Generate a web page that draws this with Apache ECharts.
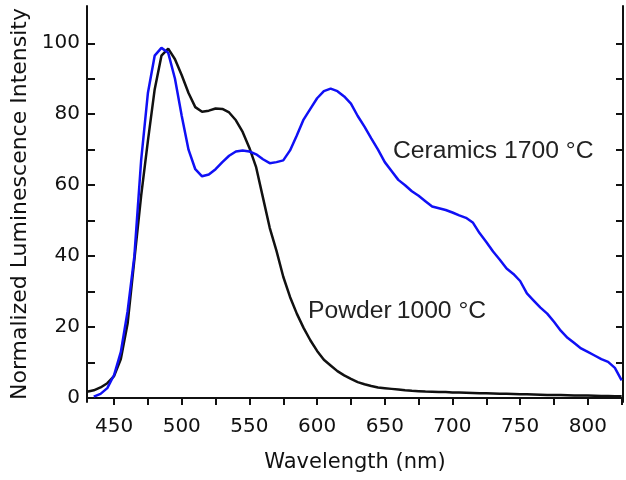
<!DOCTYPE html>
<html><head><meta charset="utf-8">
<script src="https://cdn.jsdelivr.net/npm/echarts@6/dist/echarts.min.js"></script>
<style>html,body{margin:0;padding:0;background:#fff}#c{width:626px;height:480px}</style>
</head><body><div id="c"></div>
<script>
// Wavelength (nm), 5 nm steps
const wavelength = [430,435,440,445,450,455,460,465,470,475,480,485,490,495,500,505,510,515,520,525,530,535,540,545,550,555,560,565,570,575,580,585,590,595,600,605,610,615,620,625,630,635,640,645,650,655,660,665,670,675,680,685,690,695,700,705,710,715,720,725,730,735,740,745,750,755,760,765,770,775,780,785,790,795,800,805,810,815,820,825];
const powder1000 = [1.8,2.2,3.0,4.2,6.2,11,21,39,57,72.5,87,96.5,98.5,95.5,91,86,82,80.7,81,81.6,81.5,80.5,78.3,75,70.5,65,56.5,48,41.5,34.2,28.5,23.8,19.8,16.3,13.3,10.8,9.2,7.6,6.4,5.4,4.5,3.9,3.4,3.0,2.8,2.6,2.4,2.2,2.05,1.95,1.85,1.8,1.75,1.7,1.6,1.55,1.5,1.45,1.4,1.35,1.3,1.25,1.2,1.15,1.1,1.05,1.0,0.95,0.9,0.9,0.85,0.8,0.75,0.75,0.7,0.65,0.6,0.6,0.55,0.5];
const ceramics1700 = [null,0.4,1.2,2.8,6.5,13,24.5,40,67,86,96.5,98.7,97.3,90,79.5,70,64.5,62.5,63,64.5,66.5,68.3,69.5,69.8,69.5,68.7,67.3,66.2,66.5,67,69.8,74,78.5,81.5,84.5,86.5,87.2,86.5,85,83,79.5,76.5,73.2,70,66.5,64,61.5,60,58.3,57,55.5,54,53.5,53,52.3,51.5,50.8,49.5,46.5,44,41.3,39,36.5,35,33,29.5,27.5,25.5,23.8,21.5,19,17,15.5,14,13,12,11,10.2,8.5,5];
const xLabelValues = [450,500,550,600,650,700,750,800];
const xTickValues = [450,475,500,525,550,575,600,625,650,675,700,725,750,775,800,825];
const yLabelValues = [0,20,40,60,80,100];
const yTickValues = [0,10,20,30,40,50,60,70,80,90,100];
const annotations = [
  {text:'Ceramics 1700 °C', at:[656,69.6]},
  {text:'Powder\u20091000 °C', at:[593.3,24.5]}
];

const chart = echarts.init(document.getElementById('c'));
const frame = {show:true, lineStyle:{color:'#111', width:2}};
const tickFont = {fontFamily:'DejaVu Sans', fontSize:20, color:'#111'};
const option = {
  animation:false,
  backgroundColor:'#fff',
  grid:{left:87, right:3, top:6, bottom:78},
  xAxis:[
    {type:'value', min:430, max:826, position:'bottom',
     name:'Wavelength (nm)', nameLocation:'middle', nameGap:50,
     nameTextStyle:{fontFamily:'DejaVu Sans', fontSize:21, color:'#111'},
     axisLine:frame, splitLine:{show:false},
     axisTick:{show:true, inside:false, length:5, customValues:xTickValues, lineStyle:{color:'#111', width:2}},
     axisLabel:Object.assign({customValues:xLabelValues, margin:15}, tickFont)},
    {type:'value', min:430, max:826, position:'top',
     axisLine:frame, splitLine:{show:false},
     axisTick:{show:true, inside:true, length:7, customValues:xTickValues, lineStyle:{color:'#111', width:2}},
     axisLabel:{show:false}}
  ],
  yAxis:[
    {type:'value', min:-1.1, max:110.5, position:'left',
     name:'Normalized Luminescence Intensity', nameLocation:'middle', nameGap:54,
     nameTextStyle:{fontFamily:'DejaVu Sans', fontSize:22, color:'#111'},
     axisLine:frame, splitLine:{show:false},
     axisTick:{show:true, inside:true, length:8, customValues:yTickValues, lineStyle:{color:'#111', width:2}},
     axisLabel:Object.assign({customValues:yLabelValues, margin:7}, tickFont)},
    {type:'value', min:-1.1, max:110.5, position:'right',
     axisLine:frame, splitLine:{show:false},
     axisTick:{show:true, inside:true, length:7, customValues:yTickValues, lineStyle:{color:'#111', width:2}},
     axisLabel:{show:false}}
  ],
  series:[
    {name:'Powder 1000 °C', type:'line', xAxisIndex:0, yAxisIndex:0, showSymbol:false,
     data:wavelength.map((w,i)=>[w,powder1000[i]]),
     lineStyle:{color:'#111', width:2.5}, z:2},
    {name:'Ceramics 1700 °C', type:'line', xAxisIndex:0, yAxisIndex:0, showSymbol:false,
     data:wavelength.map((w,i)=>[w,ceramics1700[i]]),
     lineStyle:{color:'#1010f5', width:2.5}, z:3}
  ]
};
chart.setOption(option);
chart.setOption({
  graphic: annotations.map(a=>{
    const p = chart.convertToPixel({gridIndex:0}, a.at);
    return {type:'text', x:p[0], y:p[1],
      style:{text:a.text, fill:'#222', font:'24.7px "Liberation Sans", Arial, sans-serif', textAlign:'left', textVerticalAlign:'middle'}};
  })
});
</script>
</body></html>
